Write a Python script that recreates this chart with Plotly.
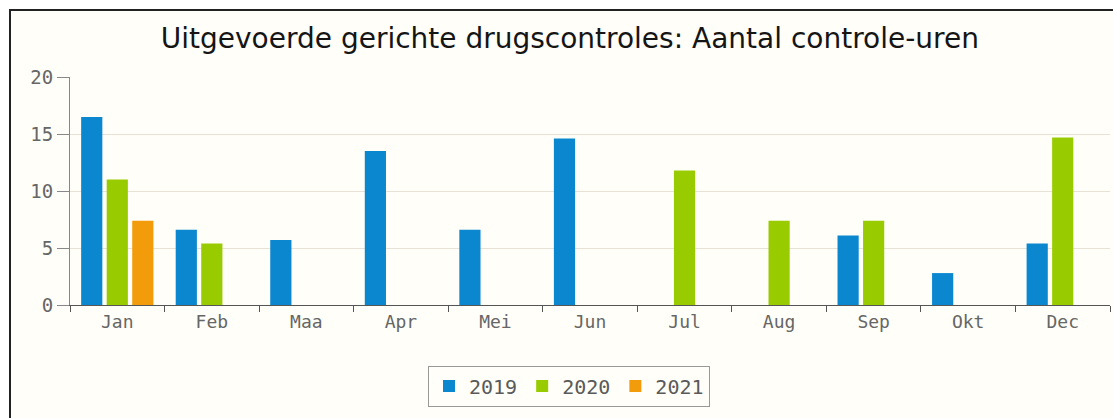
import plotly.graph_objects as go

months = ["Jan", "Feb", "Maa", "Apr", "Mei", "Jun", "Jul", "Aug", "Sep", "Okt", "Dec"]
v2019 = [16.5, 6.6, 5.7, 13.5, 6.6, 14.6, None, None, 6.1, 2.8, 5.4]
v2020 = [11.0, 5.4, None, None, None, None, 11.8, 7.4, 7.4, None, 14.7]
v2021 = [7.4, None, None, None, None, None, None, None, None, None, None]
years = ["2019", "2020", "2021"]
colors = ["#0a87cf", "#99cc00", "#f39c0b"]

W, H = 1113, 418
L, R, T, B = 70, 3, 77, 113
pw = W - L - R
ph = H - T - B

fig = go.Figure()
for name, vals, col in zip(years, [v2019, v2020, v2021], colors):
    fig.add_trace(go.Bar(x=months, y=vals, name=name, marker=dict(color=col, line=dict(width=0))))

def px_x(p):
    return (p - L) / pw

def px_y(p):
    return (H - B - p) / ph

fig.add_shape(type="rect", xref="paper", yref="paper",
              x0=px_x(10), x1=px_x(1120), y0=px_y(440), y1=px_y(10),
              line=dict(color="#222222", width=2), fillcolor="#fffef8", layer="below")

fig.update_layout(
    width=W, height=H,
    margin=dict(l=L, r=R, t=T, b=B),
    paper_bgcolor="white",
    plot_bgcolor="rgba(0,0,0,0)",
    barmode="group",
    bargap=0.19,
    bargroupgap=0.17,
    title=dict(text="Uitgevoerde gerichte drugscontroles: Aantal controle-uren",
               x=0.512, xanchor="center", y=1 - 38 / H, yanchor="middle",
               font=dict(family="DejaVu Sans", size=28, color="#151515")),
    font=dict(family="DejaVu Sans Mono", color="#666666"),
    xaxis=dict(showgrid=False, showline=True, linecolor="#555555", linewidth=1,
               ticks="outside", ticklen=6, tickcolor="#555555", tickson="boundaries",
               tickfont=dict(family="DejaVu Sans Mono", size=18, color="#666666")),
    yaxis=dict(range=[0, 20], tickvals=[0, 5, 10, 15, 20], showgrid=True,
               gridcolor="#e8e2d6", showline=True, linecolor="#888888", linewidth=1,
               ticks="outside", ticklen=12, tickcolor="#888888", zeroline=False,
               tickfont=dict(family="DejaVu Sans Mono", size=19, color="#666666")),
    legend=dict(orientation="h", x=px_x(569), xanchor="center", y=px_y(386), yanchor="middle",
                bordercolor="#999999", borderwidth=1, bgcolor="#fffef8",
                font=dict(family="DejaVu Sans Mono", size=20, color="#5a5a5a"),
                itemwidth=30),
)

fig.write_html("out.html", config={"displayModeBar": False},
               post_script="document.body.style.margin='0';document.body.style.padding='0';document.body.style.overflow='hidden';")
